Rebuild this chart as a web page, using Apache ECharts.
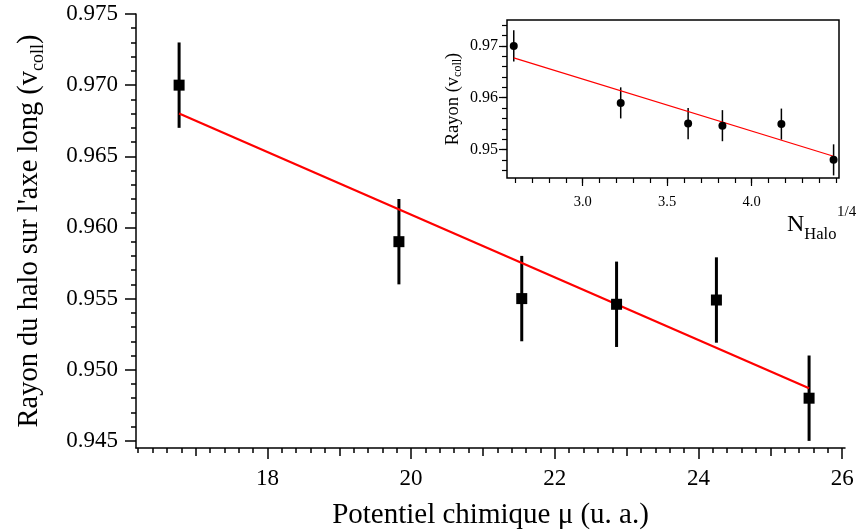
<!DOCTYPE html>
<html>
<head>
<meta charset="utf-8">
<title>Rayon du halo</title>
<script src="https://cdn.jsdelivr.net/npm/echarts@6/dist/echarts.min.js"></script>
<style>
    html, body { margin: 0; padding: 0; background: #fff; }
    #chart { width: 861px; height: 531px; }
</style>
</head>
<body>
<div id="chart"></div>
<script>
    // points mesures
    var mu = [16.77, 19.83, 21.54, 22.86, 24.25, 25.54];
    var nQuart = [2.592, 3.225, 3.624, 3.827, 4.176, 4.485];
    var rayon = [0.9700, 0.9590, 0.9550, 0.9546, 0.9549, 0.9480];
    var rayonErr = [0.003, 0.003, 0.003, 0.003, 0.003, 0.003];

    // droites ajustees (extremites)
    var fitMu = [16.77, 25.54];
    var fitMuY = [0.9680, 0.9487];
    var fitN = [2.592, 4.485];
    var fitNY = [0.9677, 0.9487];

    // graduations
    var muLabels = [18, 20, 22, 24, 26];
    var muMid = [17, 19, 21, 23, 25];
    var yLabels = [0.945, 0.950, 0.955, 0.960, 0.965, 0.970, 0.975];
    var nLabels = [3.0, 3.5, 4.0];
    var insetYLabels = [0.95, 0.96, 0.97];

    var FONT = '"Liberation Serif", "DejaVu Serif", serif';

    function steps(a, b, step) {
        let out = [];
        for (let i = 0; a + i * step <= b + 1e-9; i++) out.push(+(a + i * step).toFixed(4));
        return out;
    }

    // un axe = un jeu de graduations (longueur differente)
    function axis(grid, min, max, pos, ticks, len, opts) {
        let ax = {
            type: 'value', gridIndex: grid, min: min, max: max, position: pos, offset: 0,
            splitLine: { show: false },
            axisLine: { show: false },
            axisTick: { show: true, inside: false, length: len, customValues: ticks,
                lineStyle: { color: '#000', width: grid === 0 ? 1.5 : 1.2 } },
            axisLabel: { show: false }
        };
        return Object.assign(ax, opts || {});
    }

    // texte avec indice : grand texte cale en haut, indice cale en bas de la ligne
    function subRich(big, small, lh) {
        return {
            a: { fontFamily: FONT, fontSize: big, color: '#000', fill: '#000', lineHeight: big, verticalAlign: 'top' },
            s: { fontFamily: FONT, fontSize: small, color: '#000', fill: '#000', lineHeight: lh, verticalAlign: 'bottom' }
        };
    }

    let myChart = echarts.init(document.getElementById('chart'));

    let lineBlack = { color: '#000', width: 1.5 };

    let option = {
        backgroundColor: '#fff',
        animation: false,
        grid: [
            { left: 136, top: 14, width: 709, height: 434, outerBoundsMode: 'none' },
            { left: 507, top: 20, width: 332, height: 158, outerBoundsMode: 'none',
              show: true, borderColor: '#000', borderWidth: 1.5, backgroundColor: 'transparent' }
        ],
        xAxis: [
            axis(0, 16.17, 26.04, 'bottom', steps(16.2, 26, 0.2), 5, { axisLine: { show: true, lineStyle: lineBlack } }),
            axis(0, 16.17, 26.04, 'bottom', muMid, 8),
            axis(0, 16.17, 26.04, 'bottom', muLabels, 11, {
                axisLabel: { show: true, customValues: muLabels, margin: 19, color: '#000',
                    fontFamily: FONT, fontSize: 23 },
                name: 'Potentiel chimique μ (u. a.)', nameLocation: 'middle', nameGap: 53,
                nameTextStyle: { fontFamily: FONT, fontSize: 29, color: '#000' }
            }),
            axis(1, 2.552, 4.517, 'bottom', steps(2.6, 4.5, 0.1), 5),
            axis(1, 2.552, 4.517, 'bottom', nLabels, 8, {
                axisLabel: { show: true, customValues: nLabels, margin: 17, color: '#000',
                    fontFamily: FONT, fontSize: 14.5, formatter: v => v.toFixed(1) }
            })
        ],
        yAxis: [
            axis(0, 0.9445, 0.975, 'left', steps(0.945, 0.975, 0.001), 5, { axisLine: { show: true, lineStyle: lineBlack } }),
            axis(0, 0.9445, 0.975, 'left', yLabels, 11, {
                axisLabel: { show: true, customValues: yLabels, margin: 18, color: '#000',
                    fontFamily: FONT, fontSize: 23, formatter: v => v.toFixed(3) },
                name: "{a|Rayon du halo sur l'axe long (v}{s|coll}{a|)}",
                nameLocation: 'middle', nameRotate: 90, nameGap: 89,
                nameTextStyle: { fontFamily: FONT, fontSize: 28.5, color: '#000', rich: subRich(28.5, 18, 32) }
            }),
            axis(1, 0.9445, 0.975, 'left', steps(0.946, 0.974, 0.002), 5),
            axis(1, 0.9445, 0.975, 'left', insetYLabels, 8, {
                axisLabel: { show: true, customValues: insetYLabels, margin: 9, color: '#000',
                    fontFamily: FONT, fontSize: 16, formatter: v => v.toFixed(2) },
                name: '{a|Rayon (v}{s|coll}{a|)}',
                nameLocation: 'middle', nameRotate: 90, nameGap: 43,
                nameTextStyle: { fontFamily: FONT, fontSize: 18.5, color: '#000', rich: subRich(18.5, 12, 20) }
            })
        ],
        graphic: [
            { type: 'text', left: 787, top: 213, z: 10,
              style: { text: '{a|N}{s|Halo}', font: '24px ' + FONT, fill: '#000', rich: subRich(24, 16.5, 30) } },
            { type: 'text', left: 837, top: 205, z: 10,
              style: { text: '1/4', font: '15px ' + FONT, fill: '#000' } }
        ],
        series: [
            {
                type: 'custom', xAxisIndex: 0, yAxisIndex: 0, z: 2,
                data: mu.map((x, i) => [x, rayon[i], rayonErr[i]]),
                encode: { x: 0, y: 1 },
                renderItem: function (params, api) {
                    let a = api.coord([api.value(0), api.value(1) + api.value(2)]);
                    let b = api.coord([api.value(0), api.value(1) - api.value(2)]);
                    return { type: 'line', shape: { x1: a[0], y1: a[1], x2: b[0], y2: b[1] },
                        style: { stroke: '#000', lineWidth: 3 } };
                }
            },
            {
                type: 'line', xAxisIndex: 0, yAxisIndex: 0, z: 3, symbol: 'none',
                data: fitMu.map((x, i) => [x, fitMuY[i]]),
                lineStyle: { color: '#ff0000', width: 2.2 }
            },
            {
                type: 'scatter', xAxisIndex: 0, yAxisIndex: 0, z: 4, symbol: 'rect', symbolSize: 11,
                data: mu.map((x, i) => [x, rayon[i]]),
                itemStyle: { color: '#000', opacity: 1 }
            },
            {
                type: 'custom', xAxisIndex: 3, yAxisIndex: 2, z: 2,
                data: nQuart.map((x, i) => [x, rayon[i], rayonErr[i]]),
                encode: { x: 0, y: 1 },
                renderItem: function (params, api) {
                    let a = api.coord([api.value(0), api.value(1) + api.value(2)]);
                    let b = api.coord([api.value(0), api.value(1) - api.value(2)]);
                    return { type: 'line', shape: { x1: a[0], y1: a[1], x2: b[0], y2: b[1] },
                        style: { stroke: '#000', lineWidth: 1.5 } };
                }
            },
            {
                type: 'line', xAxisIndex: 3, yAxisIndex: 2, z: 3, symbol: 'none',
                data: fitN.map((x, i) => [x, fitNY[i]]),
                lineStyle: { color: '#ff0000', width: 1.2 }
            },
            {
                type: 'scatter', xAxisIndex: 3, yAxisIndex: 2, z: 4, symbol: 'circle', symbolSize: 8,
                data: nQuart.map((x, i) => [x, rayon[i]]),
                itemStyle: { color: '#000', opacity: 1 }
            }
        ]
    };
    myChart.setOption(option);
</script>
</body>
</html>
